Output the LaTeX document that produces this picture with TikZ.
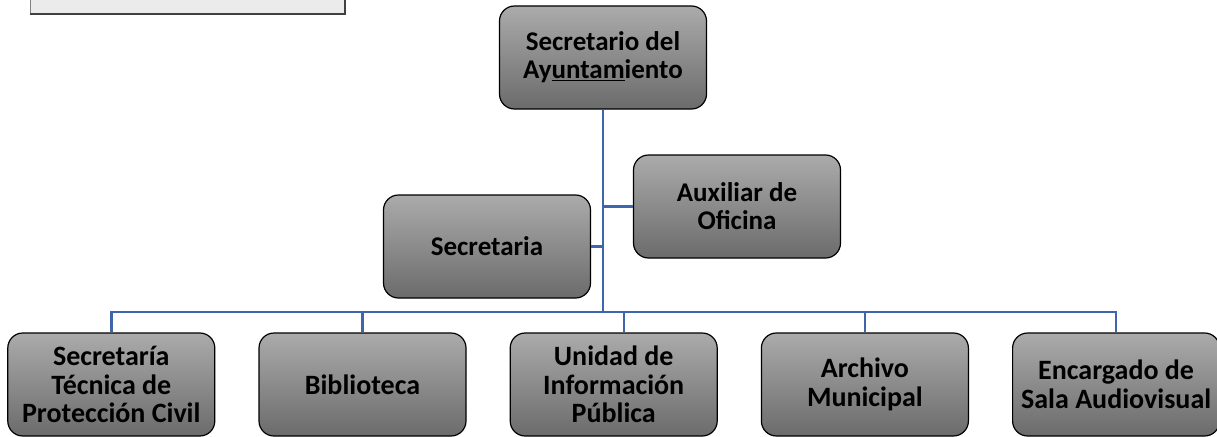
\documentclass[tikz,border=0pt]{standalone}
\usepackage{fontspec}
\setmainfont{Carlito}
\usepackage{tikz}
\usetikzlibrary{positioning}

\definecolor{linkblue}{HTML}{3F65AD}

\begin{document}
\begin{tikzpicture}[x=1pt, y=-1pt,
    postnode/.style={rectangle, rounded corners=15pt, draw=black, line width=1.2pt,
      top color=black!33, bottom color=black!58, minimum width=207pt, minimum height=103pt,
      align=center, font=\fontsize{27}{28}\selectfont\bfseries, inner sep=1pt},
    lownode/.style={postnode, font=\fontsize{28}{28.5}\selectfont\bfseries},
    link/.style={draw=linkblue, line width=2.4pt}
   ]
   \useasboundingbox (0,0) rectangle (1217,436);
   % caja superior (cortada)
   \node[rectangle, fill=black!8, draw=black!50, line width=1pt, minimum width=314pt, minimum height=30pt, anchor=south west] (titlebox) at (30,14) {};
   \draw[black!75, line width=1.6pt] (titlebox.south west) -- (titlebox.south east) -- (titlebox.north east);

   \node[postnode] (secretario) at (603,57.5) {Secretario del\\Ay\underline{untam}iento};
   \node[postnode] (auxiliar) at (737,206.5) {Auxiliar de\\Oficina};
   \node[postnode] (secretaria) at (487,246.5) {Secretaria};

   \node[lownode] (biblioteca) at (362.5,384.5) {Biblioteca};
   \node[lownode] (proteccion) [left=43pt of biblioteca] {Secretaría\\Técnica de\\Protección Civil};
   \node[lownode] (unidad) [right=43pt of biblioteca] {Unidad de\\Información\\Pública};
   \node[lownode] (archivo) [right=43pt of unidad] {Archivo\\Municipal};
   \node[lownode] (sala) [right=43pt of archivo] {Encargado de\\Sala Audiovisual};

   \coordinate (bus) at (603,312);
   \coordinate (busleft) at (proteccion.north |- bus);
   \coordinate (busright) at (sala.north |- bus);

   \path[link] (secretario.south) -- (bus);
   \path[link] (auxiliar.west) -- (auxiliar.west -| bus);
   \path[link] (secretaria.east) -- (secretaria.east -| bus);
   \path[link] (proteccion.north) -- (busleft) -- (busright) -- (sala.north);
   \path[link] (biblioteca.north) -- (biblioteca.north |- bus);
   \path[link] ([xshift=10pt]unidad.north) -- ([xshift=10pt]unidad.north |- bus);
   \path[link] (archivo.north) -- (archivo.north |- bus);
 \end{tikzpicture}
\end{document}
